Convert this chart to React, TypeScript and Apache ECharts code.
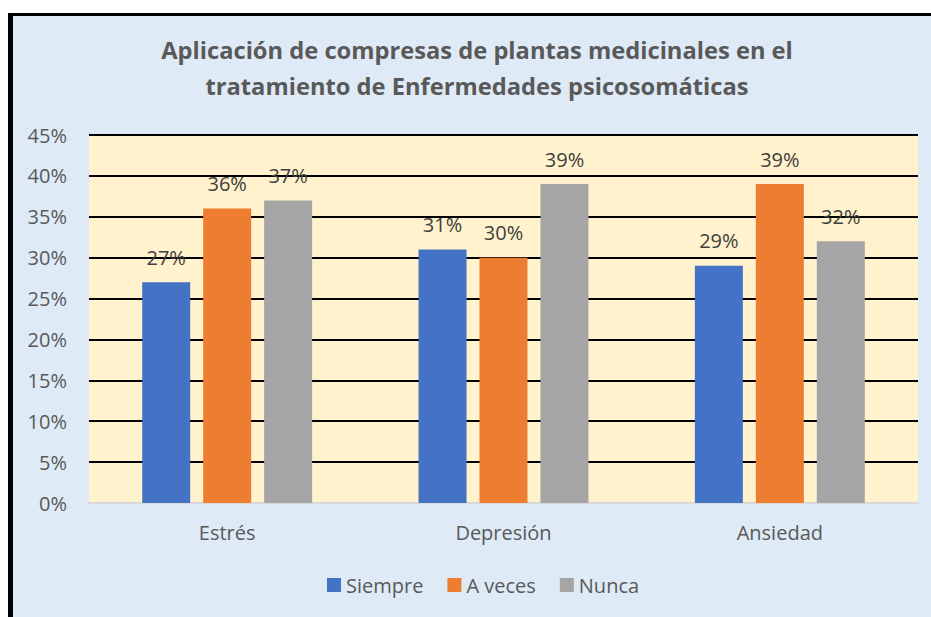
import React, { useEffect, useRef } from "react";
import * as echarts from "echarts";

const categories = ["Estrés", "Depresión", "Ansiedad"];
const siempre = [27, 31, 29];
const aVeces = [36, 30, 39];
const nunca = [37, 39, 32];
const seriesNames = ["Siempre", "A veces", "Nunca"];
const titleText = "Aplicación de compresas de plantas medicinales en el\ntratamiento de Enfermedades psicosomáticas";

const FONT = "'Open Sans', 'Noto Sans', sans-serif";

export default function App() {
  const ref = useRef<HTMLDivElement>(null);
  useEffect(() => {
    if (!ref.current) return;
    const chart = echarts.init(ref.current, undefined, { renderer: "svg" });
    const label = {
      show: true,
      position: "top" as const,
      distance: 15,
      color: "#404040",
      fontSize: 20,
      fontFamily: FONT,
      formatter: (p: any) => p.value + "%",
    };
    chart.setOption({
      animation: false,
      backgroundColor: "#ffffff",
      graphic: [
        { type: "rect", z: -10, shape: { x: 8, y: 13, width: 940, height: 620 }, style: { fill: "#000000" }, silent: true },
        { type: "rect", z: -9, shape: { x: 13, y: 16, width: 940, height: 620 }, style: { fill: "#DEEAF6" }, silent: true },
      ],
      title: {
        text: titleText,
        left: 477,
        top: 32,
        padding: 0,
        textAlign: "center",
        textStyle: {
          fontFamily: FONT,
          fontWeight: "bold",
          fontSize: 23.7,
          color: "#595959",
          lineHeight: 36,
        },
      },
      legend: {
        data: seriesNames,
        left: 327,
        top: 575,
        padding: 0,
        itemWidth: 14,
        itemHeight: 14,
        itemGap: 24,
        icon: "rect",
        textStyle: { fontFamily: FONT, fontSize: 20, color: "#595959" },
      },
      grid: {
        left: 89,
        right: 13,
        top: 135,
        bottom: 114,
        show: true,
        backgroundColor: "#FFF2CC",
        borderWidth: 0,
      },
      xAxis: {
        type: "category",
        data: categories,
        axisLine: { show: true, lineStyle: { color: "#D9D9D9", width: 2 } },
        axisTick: { show: false },
        axisLabel: { color: "#595959", fontSize: 20, fontFamily: FONT, margin: 19 },
      },
      yAxis: {
        type: "value",
        min: 0,
        max: 45,
        interval: 5,
        axisLabel: { color: "#595959", fontSize: 20, fontFamily: FONT, margin: 22, formatter: "{value}%" },
        axisLine: { show: false },
        axisTick: { show: false },
        splitLine: {
          show: true,
          lineStyle: {
            color: ["#D9D9D9", "#000", "#000", "#000", "#000", "#000", "#000", "#000", "#000", "#000"],
            width: 2,
          },
        },
      },
      series: [
        { name: seriesNames[0], type: "bar", data: siempre, barWidth: 48, barGap: "27%", itemStyle: { color: "#4472C4" }, label },
        { name: seriesNames[1], type: "bar", data: aVeces, barWidth: 48, barGap: "27%", itemStyle: { color: "#ED7D31" }, label },
        { name: seriesNames[2], type: "bar", data: nunca, barWidth: 48, barGap: "27%", itemStyle: { color: "#A5A5A5" }, label },
      ],
    });
    return () => chart.dispose();
  }, []);
  return (
    <div
      ref={ref}
      style={{ position: "fixed", left: 0, top: 0, width: 931, height: 617 }}
    />
  );
}
